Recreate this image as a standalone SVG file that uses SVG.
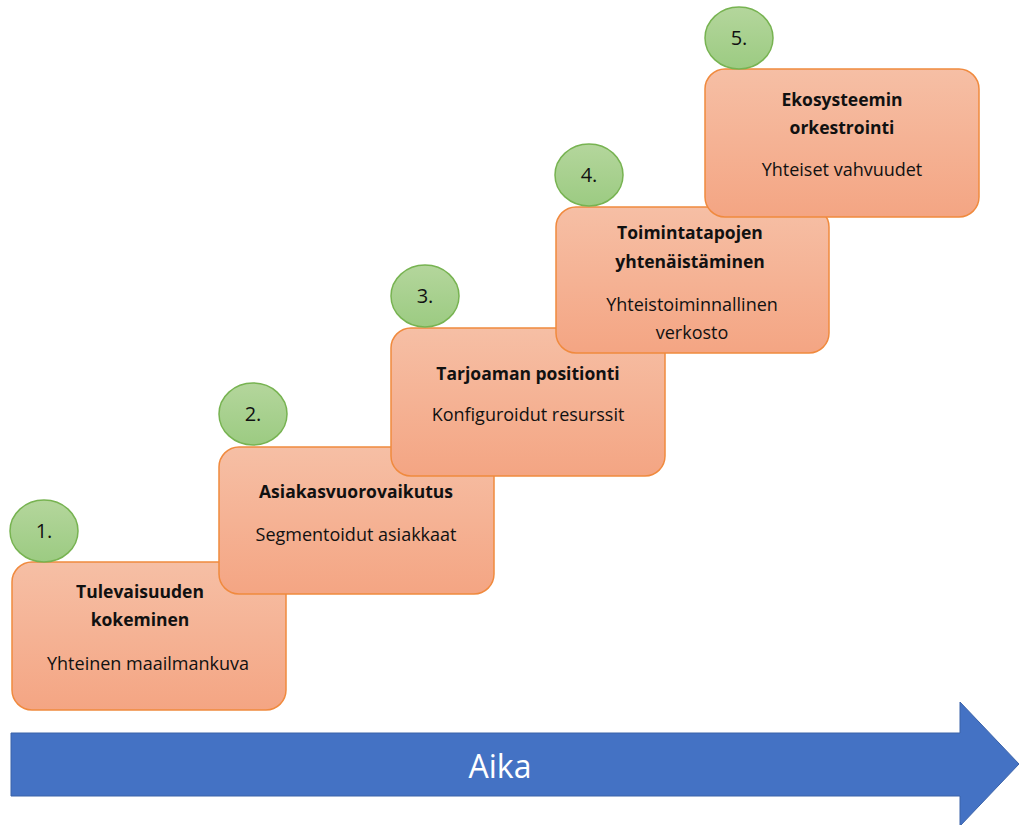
<svg xmlns="http://www.w3.org/2000/svg" width="1019" height="825" viewBox="0 0 1019 825">
<defs>
<linearGradient id="gBox" x1="0" y1="0" x2="0" y2="1">
<stop offset="0" stop-color="#F6BFA5"/>
<stop offset="1" stop-color="#F4A583"/>
</linearGradient>
<linearGradient id="gCirc" x1="0" y1="0" x2="0" y2="1">
<stop offset="0" stop-color="#B4D69C"/>
<stop offset="1" stop-color="#9CCB82"/>
</linearGradient>
<style>
.box{fill:url(#gBox);stroke:#F08A3E;stroke-width:1.5}
.circ{fill:url(#gCirc);stroke:#77B351;stroke-width:1.5}
.t{font-family:"Open Sans","Liberation Sans",sans-serif;font-size:18px;fill:#111;text-anchor:middle}
.b{font-weight:bold;font-size:17.5px}
.n{font-family:"Open Sans","Liberation Sans",sans-serif;font-size:20px;fill:#111;text-anchor:middle}
.aika{font-family:"Open Sans","Liberation Sans",sans-serif;font-size:32px;fill:#fff;text-anchor:middle}
</style>
</defs>
<rect width="1019" height="825" fill="#fff"/>
<g id="arrow">
<path d="M11,733 H960 V702 L1019,764 L960,826 V796 H11 Z" fill="#4472C4" stroke="#3A62A8" stroke-width="1"/>
<text class="aika" x="500" y="778">Aika</text>
</g>
<g id="step1">
<rect class="box" x="12" y="562" width="274" height="148" rx="20"/>
<ellipse class="circ" cx="44" cy="531" rx="34" ry="31"/>
<text class="n" x="44" y="538">1.</text>
<text class="t b" x="140" y="598">Tulevaisuuden</text>
<text class="t b" x="140" y="626">kokeminen</text>
<text class="t" x="148" y="670">Yhteinen maailmankuva</text>
</g>
<g id="step2">
<rect class="box" x="219" y="447" width="275" height="147" rx="20"/>
<ellipse class="circ" cx="253" cy="414" rx="34" ry="31"/>
<text class="n" x="253" y="421">2.</text>
<text class="t b" x="356" y="498">Asiakasvuorovaikutus</text>
<text class="t" x="356" y="541">Segmentoidut asiakkaat</text>
</g>
<g id="step3">
<rect class="box" x="391" y="328" width="274" height="148" rx="20"/>
<ellipse class="circ" cx="425" cy="296" rx="34" ry="31"/>
<text class="n" x="425" y="303">3.</text>
<text class="t b" x="528" y="380">Tarjoaman positionti</text>
<text class="t" x="528" y="421">Konfiguroidut resurssit</text>
</g>
<g id="step4">
<rect class="box" x="556" y="207" width="273" height="146" rx="20"/>
<ellipse class="circ" cx="589" cy="175" rx="34" ry="31"/>
<text class="n" x="589" y="182">4.</text>
<text class="t b" x="690" y="239">Toimintatapojen</text>
<text class="t b" x="690" y="268">yhtenäistäminen</text>
<text class="t" x="692" y="311">Yhteistoiminnallinen</text>
<text class="t" x="692" y="339">verkosto</text>
</g>
<g id="step5">
<rect class="box" x="705" y="69" width="274" height="148" rx="20"/>
<ellipse class="circ" cx="739" cy="38" rx="34" ry="31"/>
<text class="n" x="739" y="45">5.</text>
<text class="t b" x="842" y="106">Ekosysteemin</text>
<text class="t b" x="842" y="134">orkestrointi</text>
<text class="t" x="842" y="176">Yhteiset vahvuudet</text>
</g>
</svg>
